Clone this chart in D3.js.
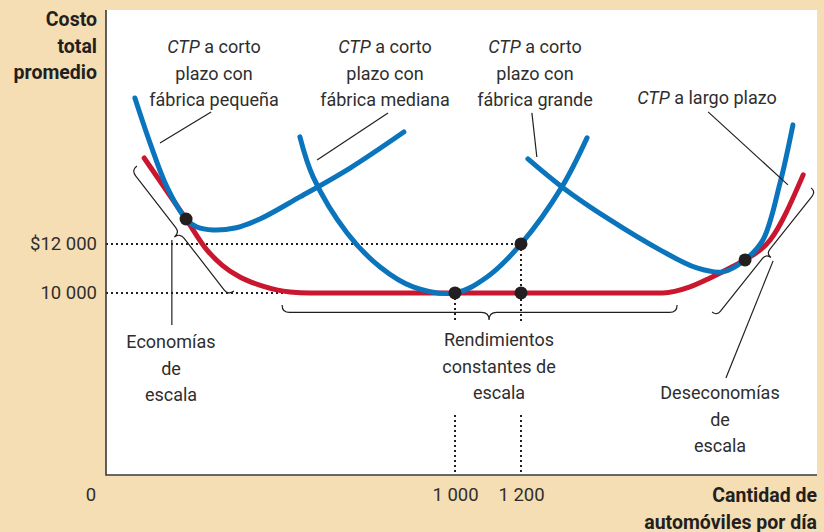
<!DOCTYPE html>
<html>
<head>
<meta charset="utf-8">
<script src="https://cdn.jsdelivr.net/npm/d3@7"></script>
<style>
  body { margin: 0; background: #f5deb3; }
  svg { display: block; }
  text { font-family: Roboto, "Liberation Sans", Arial, sans-serif; fill: #2e2e2e; }
  .bold { font-weight: bold; fill: #231f20; }
</style>
</head>
<body>
<svg id="chart" width="824" height="532"></svg>
<script>
// curves as [automoviles por dia, costo total promedio]
var smallPlant = [[30,17960],[76,16120],[127,14330],[185,13020],[218,12690],[267,12570],
                  [333,12650],[409,13020],[530,13920],[682,15100],[845,16570]];
var mediumPlant = [[530,16370],[570,14740],[673,12450],[773,11060],[873,10250],[1000,10000],
                   [1097,10650],[1200,12000],[1324,14330],[1400,16330]];
var largePlant = [[1221,15470],[1324,14330],[1470,12980],[1621,11760],[1733,11020],[1812,10860],
                  [1879,11350],[1933,12160],[1985,14490],[2024,16860]];
var longRun = [[58,15510],[185,13020],[248,11760],[294,11140],[348,10650],[415,10290],[500,10040],
               [561,10000],[1000,10000],[1200,10000],[1630,10000],[1712,10245],[1773,10610],
               [1833,11020],[1879,11350],[1955,12160],[2055,14820]];
var points = [[185,13020],[1000,10000],[1200,12000],[1200,10000],[1879,11350]];

var yTicks = [10000, 12000];
var yTickLabels = ['10 000', '$12 000'];
var xTicks = [1000, 1200];
var xTickLabels = ['1 000', '1 200'];

var margin = { top: 10, right: 7, bottom: 57, left: 106 };
var width = 824, height = 532;
var svg = d3.select('#chart');

var x = d3.scaleLinear().domain([0, 2100]).range([125, 818]);
var y = d3.scaleLinear().domain([2570, 21550]).range([475, 10]);
var plotLeft = margin.left, plotBottom = height - margin.bottom, plotRight = width - margin.right;

// white plot area
svg.append('rect')
  .attr('x', plotLeft).attr('y', margin.top)
  .attr('width', plotRight - plotLeft).attr('height', plotBottom - margin.top)
  .attr('fill', 'white');

// dotted guides
var dotted = svg.append('g')
  .attr('stroke', '#231f20').attr('stroke-width', 2).attr('stroke-dasharray', '2,3').attr('fill', 'none');
dotted.append('line').attr('x1', plotLeft).attr('x2', x(1200)).attr('y1', y(12000)).attr('y2', y(12000));
dotted.append('line').attr('x1', plotLeft).attr('x2', x(1000)).attr('y1', y(10000)).attr('y2', y(10000));
[[1000,10000],[1200,12000]].forEach(function(d) {
  dotted.append('line').attr('x1', x(d[0])).attr('x2', x(d[0])).attr('y1', y(d[1])).attr('y2', y(8780));
  dotted.append('line').attr('x1', x(d[0])).attr('x2', x(d[0])).attr('y1', y(5020)).attr('y2', plotBottom);
});

// axes
var yAxis = svg.append('g')
  .attr('transform', 'translate(' + plotLeft + ',0)')
  .call(d3.axisLeft(y).tickValues(yTicks).tickSize(0).tickPadding(9)
        .tickFormat(function(d, i) { return yTickLabels[i]; }));
yAxis.select('.domain').remove();
yAxis.selectAll('text').attr('font-size', 18.5).attr('font-family', null);

var xAxis = svg.append('g')
  .attr('transform', 'translate(0,' + plotBottom + ')')
  .call(d3.axisBottom(x).tickValues(xTicks).tickSize(0).tickPadding(13)
        .tickFormat(function(d, i) { return xTickLabels[i]; }));
xAxis.select('.domain').remove();
xAxis.selectAll('text').attr('font-size', 18.5).attr('font-family', null);

svg.append('path')
  .attr('d', 'M' + plotLeft + ',' + margin.top + 'V' + plotBottom + 'H' + plotRight)
  .attr('fill', 'none').attr('stroke', '#3a3a3a').attr('stroke-width', 1.6);

svg.append('text').attr('x', plotLeft - 15).attr('y', 501)
  .attr('text-anchor', 'middle').attr('font-size', 18.5).text('0');

// curves
var redLine = d3.line().x(d => x(d[0])).y(d => y(d[1])).curve(d3.curveMonotoneX);
var blueLine = d3.line().x(d => x(d[0])).y(d => y(d[1])).curve(d3.curveCatmullRom.alpha(0.5));
svg.append('path').datum(longRun).attr('d', redLine)
  .attr('fill', 'none').attr('stroke', '#c8172e').attr('stroke-width', 5).attr('stroke-linecap', 'round');
[smallPlant, mediumPlant, largePlant].forEach(function(s) {
  svg.append('path').datum(s).attr('d', blueLine)
    .attr('fill', 'none').attr('stroke', '#0a74bc').attr('stroke-width', 5).attr('stroke-linecap', 'round');
});

svg.selectAll('circle.pt').data(points).enter().append('circle')
  .attr('class', 'pt')
  .attr('cx', d => x(d[0])).attr('cy', d => y(d[1])).attr('r', 6.5).attr('fill', '#231f20');

// braces
function bracePath(a, b, w, frac) {
  var dx = b[0] - a[0], dy = b[1] - a[1], L = Math.hypot(dx, dy);
  var t = [dx / L, dy / L], n = [-t[1], t[0]], h = w / 2, m = frac * L;
  function p(s, o) { return (a[0] + t[0]*s + n[0]*o) + ',' + (a[1] + t[1]*s + n[1]*o); }
  return 'M' + p(0,0) + 'Q' + p(0,h) + ' ' + p(h,h) + 'L' + p(m-h,h) +
         'Q' + p(m,h) + ' ' + p(m,w) + 'Q' + p(m,h) + ' ' + p(m+h,h) +
         'L' + p(L-h,h) + 'Q' + p(L,h) + ' ' + p(L,0);
}
var braces = [
  { a: [36,15180], b: [330,10080], w: 14, frac: 0.5 },
  { a: [476,9510], b: [1673,9510], w: 15, frac: 0.524 },
  { a: [1779,9220], b: [2079,14290], w: 12, frac: 0.5 }
];
braces.forEach(function(br) {
  svg.append('path')
    .attr('d', bracePath([x(br.a[0]), y(br.a[1])], [x(br.b[0]), y(br.b[1])], br.w, br.frac))
    .attr('fill', 'none').attr('stroke', '#231f20').attr('stroke-width', 1.2);
});

// leader lines
var leaders = [
  [[261,17390],[106,16120]],
  [[797,17350],[582,15430]],
  [[1233,17350],[1248,15550]],
  [[1767,17390],[2009,14410]],
  [[142,12160],[142,8690]],
  [[1964,11310],[1821,6530]]
];
leaders.forEach(function(l) {
  svg.append('line')
    .attr('x1', x(l[0][0])).attr('y1', y(l[0][1])).attr('x2', x(l[1][0])).attr('y2', y(l[1][1]))
    .attr('stroke', '#231f20').attr('stroke-width', 1.2);
});

// labels
function multiline(cx, y0, lines, size, cls, anchor) {
  var t = svg.append('text').attr('font-size', size).attr('text-anchor', anchor || 'middle');
  if (cls) t.attr('class', cls);
  lines.forEach(function(l, i) {
    var ts = t.append('tspan').attr('x', cx).attr('y', y0 + i * 26.5);
    if (l.indexOf('CTP') === 0) {
      ts.append('tspan').attr('font-style', 'italic').text('CTP');
      ts.append('tspan').text(l.slice(3));
    } else {
      ts.text(l);
    }
  });
}
multiline(214, 53, ['CTP a corto', 'plazo con', 'fábrica pequeña'], 18);
multiline(385, 53, ['CTP a corto', 'plazo con', 'fábrica mediana'], 18);
multiline(535, 53, ['CTP a corto', 'plazo con', 'fábrica grande'], 18);
multiline(707, 104, ['CTP a largo plazo'], 18);
multiline(171, 348, ['Economías', 'de', 'escala'], 18);
multiline(499, 346, ['Rendimientos', 'constantes de', 'escala'], 18);
multiline(720, 399, ['Deseconomías', 'de', 'escala'], 18);
multiline(97, 26, ['Costo', 'total', 'promedio'], 19.5, 'bold', 'end');
multiline(817, 502, ['Cantidad de', 'automóviles por día'], 19.5, 'bold', 'end');
</script>
</body>
</html>
